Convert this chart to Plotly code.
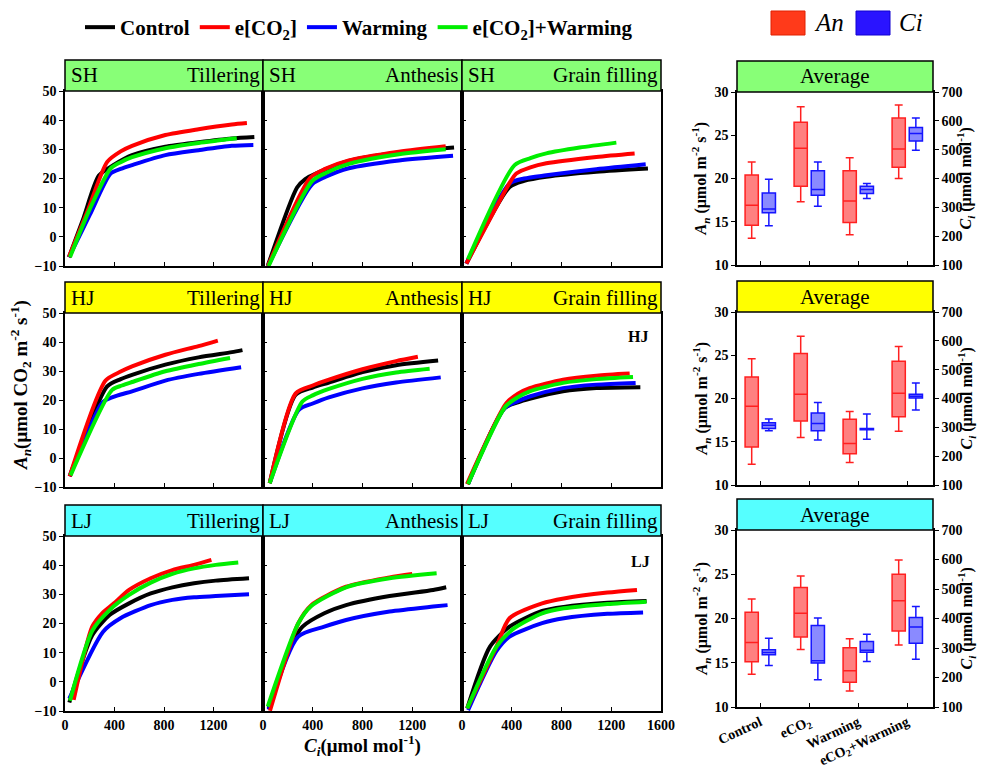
import plotly.graph_objects as go

PAGE_W, PAGE_H = 987, 770
BODY = 8  # default page body margin
W, H = PAGE_W - BODY, PAGE_H - BODY
FONT = "Liberation Serif"

# ---------------- categories / labels ----------------
SITES = ["SH", "HJ", "LJ"]
STAGES = ["Tillering", "Anthesis", "Grain filling"]
TREATMENTS = ["Control", "e[CO<sub>2</sub>]", "Warming", "e[CO<sub>2</sub>]+Warming"]
BOX_GROUPS = ["Control", "eCO<sub>2</sub>", "Warming", "eCO<sub>2</sub>+Warming"]
X_TICKS = [0, 400, 800, 1200]
X_TICKS_LAST = [0, 400, 800, 1200, 1600]
Y_TICKS = [-10, 0, 10, 20, 30, 40, 50]
AN_TICKS = [10, 15, 20, 25, 30]
CI_TICKS = [100, 200, 300, 400, 500, 600, 700]

# ---------------- A/Ci curves (Ci, An) ----------------
# SH - Tillering
SH_TIL_CTRL_CI = [32, 150, 274, 400, 542, 811, 1079, 1348, 1530]
SH_TIL_CTRL_AN = [-7.0, 6.5, 21.0, 24.8, 28.0, 30.9, 32.4, 33.7, 34.2]
SH_TIL_ECO2_CI = [32, 180, 341, 450, 542, 811, 1079, 1348, 1470]
SH_TIL_ECO2_AN = [-6.9, 8.6, 25.7, 29.3, 31.2, 34.9, 36.9, 38.5, 39.0]
SH_TIL_WARM_CI = [32, 200, 368, 450, 542, 811, 1079, 1348, 1522]
SH_TIL_WARM_AN = [-7.0, 7.5, 21.7, 23.3, 24.6, 28.0, 29.7, 31.2, 31.5]
SH_TIL_EW_CI = [40, 200, 368, 450, 542, 811, 1079, 1388]
SH_TIL_EW_AN = [-7.0, 9.5, 23.4, 25.6, 27.3, 30.4, 32.2, 33.8]
# SH - Anthesis
SH_ANT_CTRL_CI = [38, 274, 340, 420, 690, 1093, 1536]
SH_ANT_CTRL_AN = [-10.0, 16.9, 19.8, 21.6, 26.0, 28.9, 30.6]
SH_ANT_ECO2_CI = [40, 381, 500, 690, 1093, 1469]
SH_ANT_ECO2_AN = [-10.0, 20.3, 23.3, 26.2, 29.2, 31.1]
SH_ANT_WARM_CI = [40, 395, 500, 690, 1093, 1528]
SH_ANT_WARM_AN = [-10.0, 18.0, 20.5, 23.5, 26.2, 27.8]
SH_ANT_EW_CI = [45, 395, 500, 690, 1093, 1469]
SH_ANT_EW_AN = [-10.0, 19.1, 21.8, 25.0, 28.3, 30.0]
# SH - Grain filling
SH_GRA_CTRL_CI = [35, 383, 500, 678, 1080, 1495]
SH_GRA_CTRL_AN = [-9.2, 17.1, 19.2, 20.6, 22.3, 23.4]
SH_GRA_ECO2_CI = [35, 383, 437, 550, 678, 1080, 1388]
SH_GRA_ECO2_AN = [-9.2, 18.5, 21.7, 23.8, 25.2, 27.4, 28.6]
SH_GRA_WARM_CI = [35, 383, 500, 678, 1080, 1477]
SH_GRA_WARM_AN = [-9.2, 18.3, 20.0, 21.1, 23.2, 24.9]
SH_GRA_EW_CI = [48, 423, 550, 678, 946, 1241]
SH_GRA_EW_AN = [-7.7, 24.6, 27.0, 28.6, 30.6, 32.3]
# HJ - Tillering
HJ_TIL_CTRL_CI = [38, 341, 450, 542, 811, 1079, 1348, 1434]
HJ_TIL_CTRL_AN = [-6.3, 24.7, 27.2, 28.7, 32.2, 34.7, 36.5, 37.2]
HJ_TIL_ECO2_CI = [38, 328, 450, 542, 811, 1079, 1235]
HJ_TIL_ECO2_AN = [-6.3, 26.7, 29.8, 31.6, 35.6, 38.6, 40.5]
HJ_TIL_WARM_CI = [38, 300, 368, 450, 542, 811, 1079, 1423]
HJ_TIL_WARM_AN = [-6.3, 19.0, 20.7, 21.9, 23.0, 26.7, 29.0, 31.3]
HJ_TIL_EW_CI = [45, 381, 460, 542, 811, 1079, 1334]
HJ_TIL_EW_AN = [-6.0, 23.5, 25.0, 26.2, 29.9, 32.4, 34.5]
# HJ - Anthesis
HJ_ANT_CTRL_CI = [54, 263, 400, 530, 800, 1070, 1408]
HJ_ANT_CTRL_AN = [-8.7, 21.8, 24.3, 26.0, 29.6, 32.0, 33.6]
HJ_ANT_ECO2_CI = [54, 263, 400, 530, 800, 1070, 1245]
HJ_ANT_ECO2_AN = [-8.7, 22.3, 25.0, 27.0, 30.6, 33.4, 34.9]
HJ_ANT_WARM_CI = [54, 290, 400, 530, 800, 1070, 1429]
HJ_ANT_WARM_AN = [-8.7, 16.7, 18.8, 20.9, 24.0, 26.0, 27.8]
HJ_ANT_EW_CI = [54, 317, 400, 530, 800, 1070, 1340]
HJ_ANT_EW_AN = [-8.7, 19.5, 21.6, 23.8, 27.3, 29.5, 30.8]
# HJ - Grain filling
HJ_GRA_CTRL_CI = [48, 343, 450, 544, 812, 1080, 1434]
HJ_GRA_CTRL_AN = [-9.0, 17.2, 19.2, 20.4, 23.0, 24.1, 24.4]
HJ_GRA_ECO2_CI = [40, 356, 450, 544, 812, 1080, 1348]
HJ_GRA_ECO2_AN = [-9.0, 18.9, 22.2, 24.1, 27.0, 28.4, 29.1]
HJ_GRA_WARM_CI = [48, 343, 450, 544, 812, 1080, 1396]
HJ_GRA_WARM_AN = [-9.0, 17.2, 19.6, 21.2, 24.1, 25.3, 25.9]
HJ_GRA_EW_CI = [48, 350, 450, 544, 812, 1080, 1375]
HJ_GRA_EW_AN = [-9.0, 17.8, 21.0, 23.0, 25.9, 27.2, 27.9]
# LJ - Tillering
LJ_TIL_CTRL_CI = [35, 220, 360, 518, 693, 868, 1043, 1218, 1487]
LJ_TIL_CTRL_AN = [-7.1, 16.0, 22.9, 26.9, 30.3, 32.4, 33.8, 34.7, 35.5]
LJ_TIL_ECO2_CI = [70, 220, 300, 395, 518, 693, 868, 1043, 1183]
LJ_TIL_ECO2_AN = [-6.2, 18.9, 23.5, 26.9, 31.5, 35.5, 38.3, 40.1, 41.8]
LJ_TIL_WARM_CI = [35, 308, 448, 693, 868, 1043, 1218, 1487]
LJ_TIL_WARM_AN = [-5.7, 17.2, 21.8, 26.3, 28.1, 29.0, 29.4, 30.0]
LJ_TIL_EW_CI = [40, 220, 360, 518, 693, 868, 1043, 1218, 1400]
LJ_TIL_EW_AN = [-6.5, 17.5, 24.6, 29.8, 34.0, 37.0, 38.9, 40.1, 40.9]
# LJ - Anthesis
LJ_ANT_CTRL_CI = [45, 200, 318, 493, 668, 1018, 1368, 1473]
LJ_ANT_CTRL_AN = [-9.0, 10.0, 18.9, 23.5, 26.3, 29.4, 31.5, 32.4]
LJ_ANT_ECO2_CI = [56, 283, 388, 668, 1018, 1200]
LJ_ANT_ECO2_AN = [-9.9, 20.0, 26.3, 32.6, 35.8, 37.0]
LJ_ANT_WARM_CI = [45, 283, 493, 668, 1018, 1368, 1484]
LJ_ANT_WARM_AN = [-9.5, 15.5, 18.9, 21.2, 24.1, 25.8, 26.3]
LJ_ANT_EW_CI = [38, 283, 388, 668, 1018, 1396]
LJ_ANT_EW_AN = [-8.5, 20.0, 26.0, 32.4, 35.5, 37.2]
# LJ - Grain filling
LJ_GRA_CTRL_CI = [42, 224, 382, 644, 819, 1169, 1484]
LJ_GRA_CTRL_AN = [-9.1, 12.0, 18.9, 24.3, 25.7, 27.1, 27.7]
LJ_GRA_ECO2_CI = [42, 276, 382, 644, 819, 1169, 1407]
LJ_GRA_ECO2_AN = [-9.1, 12.0, 21.8, 26.9, 28.6, 30.6, 31.5]
LJ_GRA_WARM_CI = [49, 276, 382, 644, 819, 1169, 1456]
LJ_GRA_WARM_AN = [-9.7, 10.5, 15.5, 20.1, 21.8, 23.3, 23.8]
LJ_GRA_EW_CI = [42, 276, 417, 644, 819, 1169, 1484]
LJ_GRA_EW_AN = [-9.1, 12.0, 18.3, 23.5, 25.2, 26.7, 27.5]

# ---------------- Box statistics (Control, eCO2, Warming, eCO2+Warming) ----------------
SH_AN_LO = [13.1, 17.3, 13.5, 20.0]
SH_AN_Q1 = [14.6, 19.1, 14.9, 21.3]
SH_AN_MED = [16.9, 23.5, 17.4, 23.4]
SH_AN_Q3 = [20.4, 26.5, 20.9, 27.0]
SH_AN_HI = [21.9, 28.3, 22.4, 28.5]
SH_CI_LO = [236, 304, 331, 498]
SH_CI_Q1 = [281, 342, 348, 530]
SH_CI_MED = [294, 362, 362, 556]
SH_CI_Q3 = [350, 427, 373, 577]
SH_CI_HI = [397, 457, 383, 610]

HJ_AN_LO = [12.4, 15.5, 12.6, 16.2]
HJ_AN_Q1 = [14.4, 17.4, 13.6, 17.9]
HJ_AN_MED = [19.1, 20.5, 14.8, 20.6]
HJ_AN_Q3 = [22.5, 25.2, 17.6, 24.3]
HJ_AN_HI = [24.6, 27.2, 18.5, 26.0]
HJ_CI_LO = [288, 256, 259, 360]
HJ_CI_Q1 = [296, 288, 292, 402]
HJ_CI_MED = [307, 313, 294, 408]
HJ_CI_Q3 = [316, 350, 296, 415]
HJ_CI_HI = [329, 386, 346, 454]

LJ_AN_LO = [13.7, 16.5, 11.8, 17.0]
LJ_AN_Q1 = [15.1, 17.9, 12.8, 18.6]
LJ_AN_MED = [17.3, 20.6, 14.1, 22.0]
LJ_AN_Q3 = [20.7, 23.5, 16.7, 25.0]
LJ_AN_HI = [22.2, 24.8, 17.7, 26.6]
LJ_CI_LO = [241, 192, 254, 262]
LJ_CI_Q1 = [277, 249, 286, 316]
LJ_CI_MED = [285, 257, 292, 371]
LJ_CI_Q3 = [294, 376, 322, 403]
LJ_CI_HI = [333, 402, 347, 441]

# ---------------- assemble ----------------
CURVES = {
    ("SH", 0): [(SH_TIL_CTRL_CI, SH_TIL_CTRL_AN), (SH_TIL_ECO2_CI, SH_TIL_ECO2_AN), (SH_TIL_WARM_CI, SH_TIL_WARM_AN), (SH_TIL_EW_CI, SH_TIL_EW_AN)],
    ("SH", 1): [(SH_ANT_CTRL_CI, SH_ANT_CTRL_AN), (SH_ANT_ECO2_CI, SH_ANT_ECO2_AN), (SH_ANT_WARM_CI, SH_ANT_WARM_AN), (SH_ANT_EW_CI, SH_ANT_EW_AN)],
    ("SH", 2): [(SH_GRA_CTRL_CI, SH_GRA_CTRL_AN), (SH_GRA_ECO2_CI, SH_GRA_ECO2_AN), (SH_GRA_WARM_CI, SH_GRA_WARM_AN), (SH_GRA_EW_CI, SH_GRA_EW_AN)],
    ("HJ", 0): [(HJ_TIL_CTRL_CI, HJ_TIL_CTRL_AN), (HJ_TIL_ECO2_CI, HJ_TIL_ECO2_AN), (HJ_TIL_WARM_CI, HJ_TIL_WARM_AN), (HJ_TIL_EW_CI, HJ_TIL_EW_AN)],
    ("HJ", 1): [(HJ_ANT_CTRL_CI, HJ_ANT_CTRL_AN), (HJ_ANT_ECO2_CI, HJ_ANT_ECO2_AN), (HJ_ANT_WARM_CI, HJ_ANT_WARM_AN), (HJ_ANT_EW_CI, HJ_ANT_EW_AN)],
    ("HJ", 2): [(HJ_GRA_CTRL_CI, HJ_GRA_CTRL_AN), (HJ_GRA_ECO2_CI, HJ_GRA_ECO2_AN), (HJ_GRA_WARM_CI, HJ_GRA_WARM_AN), (HJ_GRA_EW_CI, HJ_GRA_EW_AN)],
    ("LJ", 0): [(LJ_TIL_CTRL_CI, LJ_TIL_CTRL_AN), (LJ_TIL_ECO2_CI, LJ_TIL_ECO2_AN), (LJ_TIL_WARM_CI, LJ_TIL_WARM_AN), (LJ_TIL_EW_CI, LJ_TIL_EW_AN)],
    ("LJ", 1): [(LJ_ANT_CTRL_CI, LJ_ANT_CTRL_AN), (LJ_ANT_ECO2_CI, LJ_ANT_ECO2_AN), (LJ_ANT_WARM_CI, LJ_ANT_WARM_AN), (LJ_ANT_EW_CI, LJ_ANT_EW_AN)],
    ("LJ", 2): [(LJ_GRA_CTRL_CI, LJ_GRA_CTRL_AN), (LJ_GRA_ECO2_CI, LJ_GRA_ECO2_AN), (LJ_GRA_WARM_CI, LJ_GRA_WARM_AN), (LJ_GRA_EW_CI, LJ_GRA_EW_AN)],
}
BOXES = {
    "SH": ((SH_AN_LO, SH_AN_Q1, SH_AN_MED, SH_AN_Q3, SH_AN_HI), (SH_CI_LO, SH_CI_Q1, SH_CI_MED, SH_CI_Q3, SH_CI_HI)),
    "HJ": ((HJ_AN_LO, HJ_AN_Q1, HJ_AN_MED, HJ_AN_Q3, HJ_AN_HI), (HJ_CI_LO, HJ_CI_Q1, HJ_CI_MED, HJ_CI_Q3, HJ_CI_HI)),
    "LJ": ((LJ_AN_LO, LJ_AN_Q1, LJ_AN_MED, LJ_AN_Q3, LJ_AN_HI), (LJ_CI_LO, LJ_CI_Q1, LJ_CI_MED, LJ_CI_Q3, LJ_CI_HI)),
}

LINE_COLORS = ["#000000", "#FF0000", "#0000FF", "#00EE00"]
DRAW_ORDER = [0, 2, 1, 3]
HEADER_COLORS = {"SH": "#88FF77", "HJ": "#FFFF00", "LJ": "#55FFFF"}

# layout geometry (page pixels)
COLS_X = [(65, 263), (263, 462), (462, 661)]
ROWS_Y = [(91, 266), (313, 487), (536, 711)]
RIGHT_X = (737, 933)
RIGHT_ROWS_Y = [(92, 265), (312, 485), (530, 707)]
HEADER_H = 31


def px(x):
    return (x - BODY) / W


def py(y):
    return 1 - (y - BODY) / H


def axn(kind, k):
    return f"{kind}axis" if k == 1 else f"{kind}axis{k}"


def ref(kind, k):
    return kind if k == 1 else f"{kind}{k}"


tick_font = dict(family=FONT, size=14, color="black", weight="bold")
fig = go.Figure()
layout = {}
shapes = []
annotations = []

AXIS_COMMON = dict(showline=True, linecolor="black", linewidth=1.5, mirror=True,
                   showgrid=False, zeroline=False, tickcolor="black", tickwidth=1.2,
                   ticklen=4, tickfont=tick_font, automargin=False)

# ----- left 3x3 panels -----
for r, site in enumerate(SITES):
    for c, stage in enumerate(STAGES):
        k = r * 3 + c + 1
        x0, x1 = COLS_X[c]
        y0, y1 = ROWS_Y[r]
        layout[axn("x", k)] = dict(
            AXIS_COMMON, domain=[px(x0), px(x1)], range=[0, 1600], anchor=ref("y", k),
            tickvals=X_TICKS_LAST if c == 2 else X_TICKS, ticks="inside",
            showticklabels=(r == 2))
        layout[axn("y", k)] = dict(
            AXIS_COMMON, domain=[py(y1), py(y0)], range=[-10, 50], anchor=ref("x", k),
            tickvals=Y_TICKS, ticks="outside" if c == 0 else "inside",
            showticklabels=(c == 0))
        for i in DRAW_ORDER:
            ci, an = CURVES[(site, c)][i]
            fig.add_trace(go.Scatter(
                x=ci, y=an, mode="lines", name=TREATMENTS[i],
                line=dict(color=LINE_COLORS[i], width=4, shape="spline", smoothing=0.7),
                xaxis=ref("x", k), yaxis=ref("y", k),
                legendgroup=TREATMENTS[i], showlegend=(k == 1), legendrank=i + 1))
        # header strip
        shapes.append(dict(type="rect", xref="paper", yref="paper",
                           x0=px(x0), x1=px(x1), y0=py(y0), y1=py(y0 - HEADER_H),
                           fillcolor=HEADER_COLORS[site], line=dict(color="black", width=1.5)))
        annotations.append(dict(text=site, xref="paper", yref="paper", x=px(x0 + 4),
                                y=py(y0 - HEADER_H / 2), xanchor="left", yanchor="middle",
                                showarrow=False, font=dict(family=FONT, size=21, color="black")))
        annotations.append(dict(text=stage, xref="paper", yref="paper", x=px(x1 - 1),
                                y=py(y0 - HEADER_H / 2), xanchor="right", yanchor="middle",
                                showarrow=False, font=dict(family=FONT, size=21, color="black")))

# site labels inside grain-filling panels
annotations.append(dict(text="<b>HJ</b>", xref="paper", yref="paper", x=px(650), y=py(336),
                        xanchor="right", yanchor="middle", showarrow=False,
                        font=dict(family=FONT, size=16, color="black")))
annotations.append(dict(text="<b>LJ</b>", xref="paper", yref="paper", x=px(652), y=py(561),
                        xanchor="right", yanchor="middle", showarrow=False,
                        font=dict(family=FONT, size=16, color="black")))

# ----- right box-plot panels -----
POS = list(range(len(BOX_GROUPS)))
for r, site in enumerate(SITES):
    kx = 10 + r
    ky = 10 + r
    ky2 = 13 + r
    x0, x1 = RIGHT_X
    y0, y1 = RIGHT_ROWS_Y[r]
    layout[axn("x", kx)] = dict(
        AXIS_COMMON, domain=[px(x0), px(x1)], range=[-0.47, 3.53], anchor=ref("y", ky),
        tickvals=POS, ticktext=BOX_GROUPS, ticks="inside",
        tickangle=-25, showticklabels=(r == 2),
        tickfont=dict(family=FONT, size=14, color="black", weight="bold"))
    layout[axn("y", ky)] = dict(
        AXIS_COMMON, domain=[py(y1), py(y0)], range=[10, 30], anchor=ref("x", kx),
        tickvals=AN_TICKS, ticks="outside", mirror=False)
    layout[axn("y", ky2)] = dict(
        AXIS_COMMON, domain=[py(y1), py(y0)], range=[100, 700], anchor=ref("x", kx),
        overlaying=ref("y", ky), side="right", tickvals=CI_TICKS, ticks="outside", mirror=False)
    an_stats, ci_stats = BOXES[site]
    fig.add_trace(go.Box(
        x=[p - 0.17 for p in POS], lowerfence=an_stats[0], q1=an_stats[1], median=an_stats[2],
        q3=an_stats[3], upperfence=an_stats[4], orientation="v", width=0.27, whiskerwidth=0.6,
        fillcolor="rgba(255,60,60,0.65)", line=dict(color="#FF2020", width=1.5),
        boxpoints=False, showlegend=False, name="An",
        xaxis=ref("x", kx), yaxis=ref("y", ky)))
    fig.add_trace(go.Box(
        x=[p + 0.18 for p in POS], lowerfence=ci_stats[0], q1=ci_stats[1], median=ci_stats[2],
        q3=ci_stats[3], upperfence=ci_stats[4], orientation="v", width=0.27, whiskerwidth=0.6,
        fillcolor="rgba(60,60,255,0.6)", line=dict(color="#1515FF", width=1.5),
        boxpoints=False, showlegend=False, name="Ci",
        xaxis=ref("x", kx), yaxis=ref("y", ky2)))
    # header
    shapes.append(dict(type="rect", xref="paper", yref="paper",
                       x0=px(x0), x1=px(x1), y0=py(y0), y1=py(y0 - HEADER_H),
                       fillcolor=HEADER_COLORS[site], line=dict(color="black", width=1.5)))
    annotations.append(dict(text="Average", xref="paper", yref="paper", x=px((x0 + x1) / 2),
                            y=py(y0 - HEADER_H / 2), xanchor="center", yanchor="middle",
                            showarrow=False, font=dict(family=FONT, size=21, color="black")))
    # axis titles
    ymid = py((y0 + y1) / 2)
    annotations.append(dict(text="<b><i>A<sub>n</sub></i> (μmol m<sup>-2</sup> s<sup>-1</sup>)</b>",
                            xref="paper", yref="paper", x=px(701), y=ymid, textangle=-90,
                            xanchor="center", yanchor="middle", showarrow=False,
                            font=dict(family=FONT, size=16, color="black")))
    annotations.append(dict(text="<b><i>C<sub>i</sub></i> (μmol mol<sup>-1</sup>)</b>",
                            xref="paper", yref="paper", x=px(966), y=ymid, textangle=-90,
                            xanchor="center", yanchor="middle", showarrow=False,
                            font=dict(family=FONT, size=16, color="black")))

# global axis titles
annotations.append(dict(text="<b><i>A<sub>n</sub></i>(μmol CO<sub>2</sub> m<sup>-2</sup> s<sup>-1</sup>)</b>",
                        xref="paper", yref="paper", x=px(20), y=py(385), textangle=-90,
                        xanchor="center", yanchor="middle", showarrow=False,
                        font=dict(family=FONT, size=19, color="black")))
annotations.append(dict(text="<b><i>C<sub>i</sub></i>(μmol mol<sup>-1</sup>)</b>",
                        xref="paper", yref="paper", x=px(362), y=py(745),
                        xanchor="center", yanchor="middle", showarrow=False,
                        font=dict(family=FONT, size=19, color="black")))

# An / Ci legend swatches
shapes.append(dict(type="rect", xref="paper", yref="paper", x0=px(771), x1=px(805), y0=py(35), y1=py(11),
                   fillcolor="#FF3A1A", line=dict(color="#E02000", width=1)))
shapes.append(dict(type="rect", xref="paper", yref="paper", x0=px(856), x1=px(890), y0=py(35), y1=py(11),
                   fillcolor="#2A14FF", line=dict(color="#1000D0", width=1)))
annotations.append(dict(text="<i>An</i>", xref="paper", yref="paper", x=px(812), y=py(23),
                        xanchor="left", yanchor="middle", showarrow=False,
                        font=dict(family=FONT, size=25, color="black")))
annotations.append(dict(text="<i>Ci</i>", xref="paper", yref="paper", x=px(897), y=py(23),
                        xanchor="left", yanchor="middle", showarrow=False,
                        font=dict(family=FONT, size=25, color="black")))

fig.update_layout(
    **layout,
    shapes=shapes,
    annotations=annotations,
    width=W, height=H,
    margin=dict(l=0, r=0, t=0, b=0, pad=0, autoexpand=False),
    paper_bgcolor="white", plot_bgcolor="white",
    showlegend=True,
    legend=dict(orientation="h", x=px(80), y=py(7), xanchor="left", yanchor="top",
                font=dict(family=FONT, size=21, color="black", weight="bold"),
                bgcolor="rgba(0,0,0,0)", traceorder="normal", itemwidth=30,
                tracegroupgap=0),
    font=dict(family=FONT, color="black"),
    boxmode="overlay",
)

fig.write_html("out.html")
